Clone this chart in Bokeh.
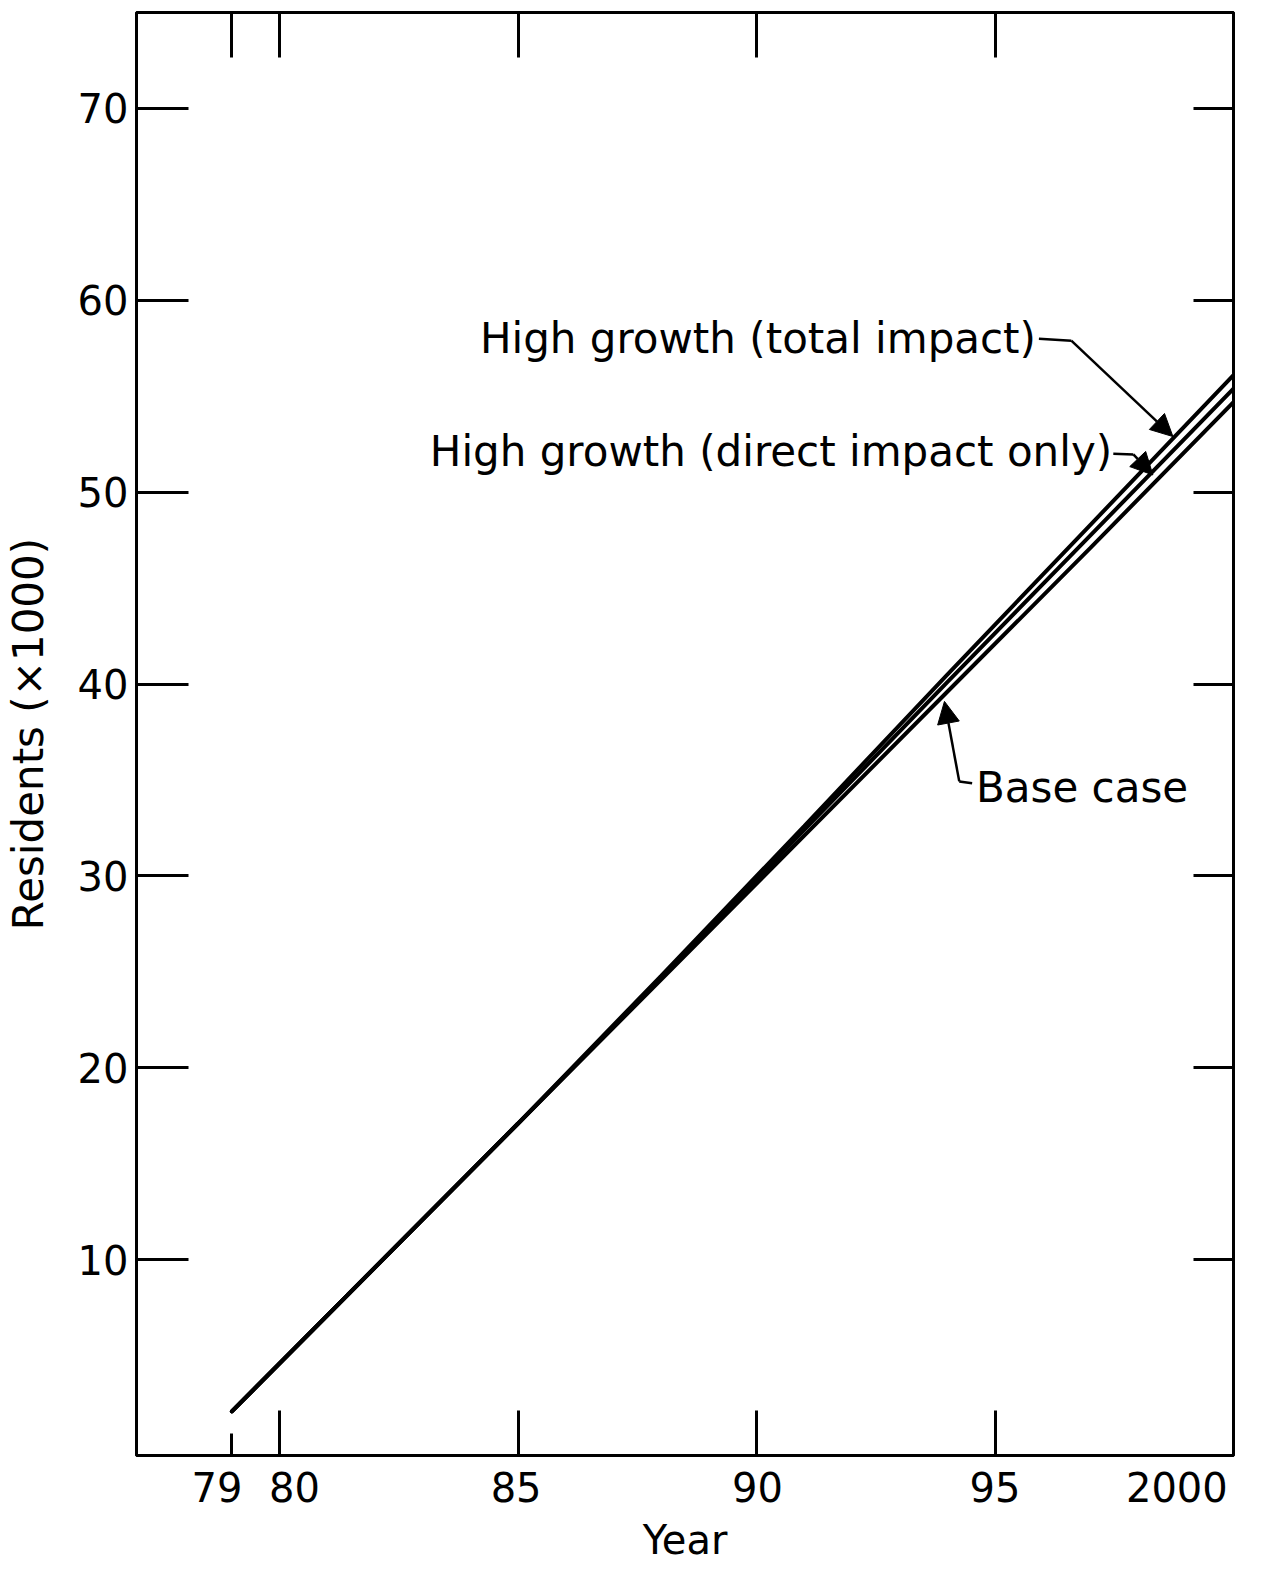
from bokeh.plotting import figure
from bokeh.models import FixedTicker, LinearAxis, Label, Arrow, NormalHead, Range1d
from bokeh.embed import file_html
from bokeh.resources import INLINE

# ---- data ----
years = [79, 85, 88, 91, 94, 97, 100]
base_case = [2.1, 17.1, 24.6, 32.1, 39.6, 47.1, 54.7]
direct_only = [2.1, 17.1, 24.7, 32.4, 40.1, 47.75, 55.4]
total_impact = [2.1, 17.1, 24.8, 32.6, 40.5, 48.3, 56.1]

x_ticks = [79, 80, 85, 90, 95, 100]
x_tick_labels = ["79", "80", "85", "90", "95", "2000"]
x_label_shift_px = [-15, 15, -2, 1, 0, -57]
y_ticks = [10, 20, 30, 40, 50, 60, 70]

FONT = "DejaVu Sans"
INK = "#000000"
PX_PER_YEAR = 48.0

p = figure(width=1252, height=1565,
           x_range=Range1d(77, 100), y_range=Range1d(-0.2, 75),
           output_backend="svg", toolbar_location=None,
           min_border_left=129, min_border_right=19,
           min_border_top=12, min_border_bottom=4,
           x_axis_type=None, y_axis_type=None)
p.grid.visible = False
p.outline_line_color = INK
p.outline_line_width = 3
p.background_fill_color = "white"
p.border_fill_color = "white"

def style_axis(ax, tick_in):
    ax.axis_line_color = INK
    ax.axis_line_width = 3
    ax.major_tick_line_color = INK
    ax.major_tick_line_width = 3
    ax.major_tick_in = tick_in
    ax.major_tick_out = 0
    ax.minor_tick_line_color = None
    ax.major_label_text_color = INK
    ax.major_label_text_font = FONT

def blank_labels(ax, ticks):
    ax.major_label_overrides = {t: "" for t in ticks}
    ax.major_label_standoff = 0

# bottom axis: tick marks only
xb_ticks = [80, 85, 90, 95]
xb = LinearAxis(ticker=FixedTicker(ticks=xb_ticks, minor_ticks=[79]))
style_axis(xb, 45)
xb.minor_tick_line_color = INK
xb.minor_tick_line_width = 3
xb.minor_tick_in = 22
xb.minor_tick_out = 0
blank_labels(xb, xb_ticks)
xb.major_label_text_font_size = "4px"
p.add_layout(xb, "below")

# bottom label axis: year labels, placed as lettered on the original
label_pos = [round(x + dx / PX_PER_YEAR, 4) for x, dx in zip(x_ticks, x_label_shift_px)]
xl = LinearAxis(ticker=FixedTicker(ticks=label_pos))
xl.axis_line_color = None
xl.major_tick_line_color = None
xl.minor_tick_line_color = None
xl.major_label_overrides = {pos: txt for pos, txt in zip(label_pos, x_tick_labels)}
xl.major_label_text_font = FONT
xl.major_label_text_font_size = "40px"
xl.major_label_text_color = INK
xl.major_label_standoff = 10
xl.axis_label = "Year"
xl.axis_label_text_font = FONT
xl.axis_label_text_font_size = "40px"
xl.axis_label_text_font_style = "normal"
xl.axis_label_text_color = INK
xl.axis_label_standoff = 12
p.add_layout(xl, "below")

# top axis
xt_ticks = [79, 80, 85, 90, 95]
xt = LinearAxis(ticker=FixedTicker(ticks=xt_ticks))
style_axis(xt, 45)
blank_labels(xt, xt_ticks)
xt.major_label_text_font_size = "4px"
p.add_layout(xt, "above")

# left axis
yl = LinearAxis(ticker=FixedTicker(ticks=y_ticks))
style_axis(yl, 52)
yl.major_label_text_font_size = "40px"
yl.major_label_standoff = 8
yl.axis_label = "Residents (\u00d71000)"
yl.axis_label_text_font = FONT
yl.axis_label_text_font_size = "42px"
yl.axis_label_text_font_style = "normal"
yl.axis_label_text_color = INK
yl.axis_label_standoff = 22
p.add_layout(yl, "left")

# right axis
yr = LinearAxis(ticker=FixedTicker(ticks=y_ticks))
style_axis(yr, 40)
blank_labels(yr, y_ticks)
yr.major_label_text_font_size = "4px"
p.add_layout(yr, "right")

# the three series
for ys in (base_case, direct_only, total_impact):
    p.line(years, ys, line_color=INK, line_width=4, line_cap="round")

# annotations
def note(x, y, txt):
    p.add_layout(Label(x=x, y=y, text=txt, text_align="left", text_baseline="middle",
                       text_font=FONT, text_font_size="42px", text_color=INK))

def leader(xs, ys):
    p.line(xs[:-1], ys[:-1], line_color=INK, line_width=2.5)
    p.add_layout(Arrow(x_start=xs[-2], y_start=ys[-2], x_end=xs[-1], y_end=ys[-1],
                       line_color=INK, line_width=2.5,
                       end=NormalHead(size=22, fill_color=INK, line_color=INK)))

note(84.2, 58.0, "High growth (total impact)")
leader([95.92, 96.6, 98.73], [58.0, 57.9, 52.9])

note(83.15, 52.1, "High growth (direct impact only)")
leader([97.48, 97.9, 98.31], [52.0, 51.97, 50.9])

note(94.6, 34.6, "Base case")
leader([94.52, 94.25, 93.94], [34.83, 34.93, 39.1])

open("out.html", "w").write(file_html(p, INLINE))
